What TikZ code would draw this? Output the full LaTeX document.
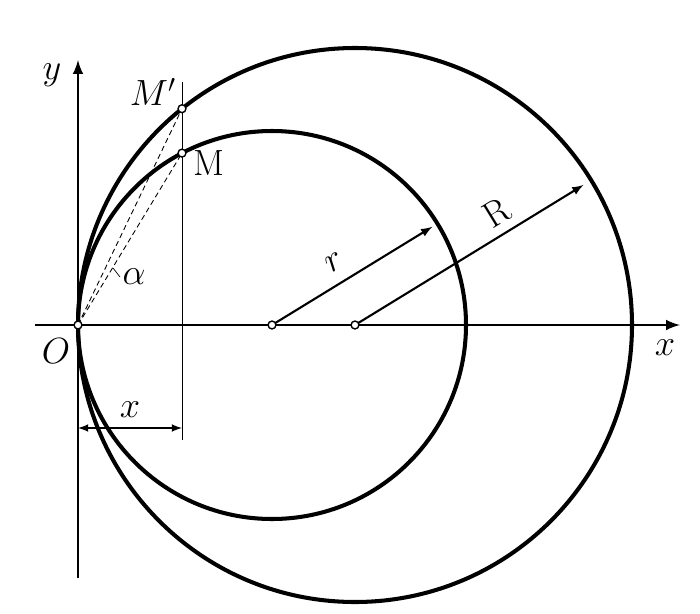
\documentclass[tikz,border=0pt]{standalone}
\usetikzlibrary{arrows,positioning,calc}
\tikzset{
  dot/.style={circle,draw,fill=white,inner sep=0pt,minimum size=4.5pt,line width=0.8pt},
  curve/.style={line width=2.3pt},
  axis/.style={line width=1.7pt,-latex},
  radius/.style={line width=1.2pt,-latex},
  guide/.style={densely dashed,line width=0.5pt},
  lab/.style={font=\huge}
}
\begin{document}
\begin{tikzpicture}[x=0.02cm,y=0.02cm]
   \useasboundingbox (-78,-288) rectangle (622,325);
   % axes
   \coordinate (ybot) at (0,-253);
   \coordinate (ytop) at (0,265);
   \coordinate (xleft) at (-43,0);
   \coordinate (xright) at (602,0);
   \draw[axis] (ybot) -- (ytop);
   \draw[axis] (xleft) -- (xright);
   % circles
   \coordinate (c) at (194,0);
   \coordinate (C) at (277,0);
   \draw[curve] (c) circle (194);
   \draw[curve] (C) circle (277);
   % vertical line through M and M'
   \coordinate (vtop) at (104,243);
   \coordinate (vbot) at (104,-115);
   \draw[line width=0.5pt] (vtop) -- (vbot);
   % radii
   \coordinate (rend) at ($(c)+(31.5:188)$);
   \coordinate (Rend) at ($(C)+(31.5:268)$);
   \draw[radius] (c) -- (rend);
   \draw[radius] (C) -- (Rend);
   % chords from O
   \coordinate (O) at (0,0);
   \coordinate (Mp) at (104,216.3);
   \coordinate (Mm) at (104,171.9);
   \draw[guide] (O) -- (Mp);
   \draw[guide] (O) -- (Mm);
   \draw[line width=0.4pt] (35,57) -- (42,48);
   % distance x
   \coordinate (xa) at (0,-103);
   \coordinate (xb) at (104,-103);
   \draw[line width=1pt,latex-latex] (xa) -- (xb);
   % points
   \node[dot] (o) at (O) {};
   \node[dot] (cs) at (c) {};
   \node[dot] (cl) at (C) {};
   \node[dot] (m) at (Mm) {};
   \node[dot] (mp) at (Mp) {};
   % labels
   \node[lab] (ylab) at (-26,250) {$y$};
   \node[lab] (xlab) at (587,-23) {$x$};
   \node[lab] (olab) at (-22,-26) {$O$};
   \node[lab] (mplab) at (75,233) {$M'$};
   \node[lab] (mlab) at (131,162) {M};
   \node[lab] (alab) at (56,48) {$\alpha$};
   \node[lab] (dxlab) at (52,-85) {$x$};
   \node[lab,rotate=31.5] (rlab) at (257,63) {$r$};
   \node[lab,rotate=31.5] (Rlab) at (419,112) {R};
\end{tikzpicture}
\end{document}
